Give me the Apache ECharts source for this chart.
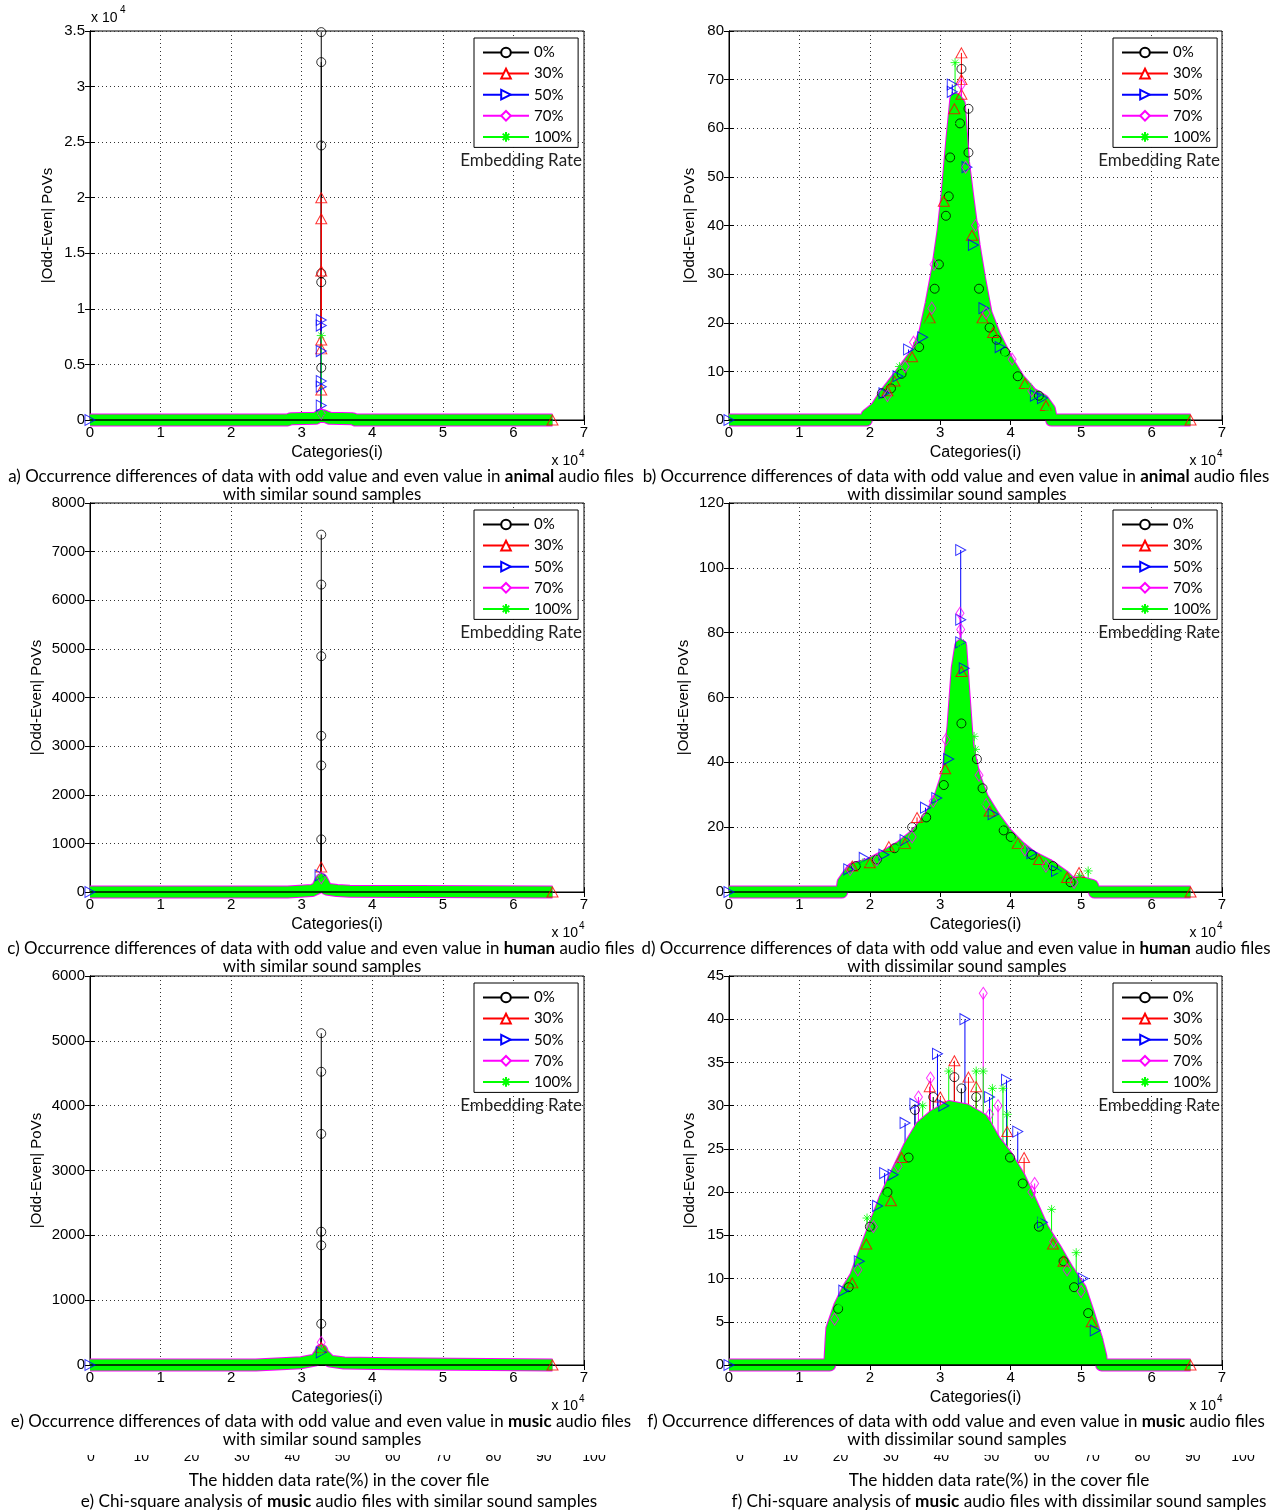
<!DOCTYPE html>
<html><head><meta charset="utf-8">
<script src="https://cdn.jsdelivr.net/npm/echarts@6/dist/echarts.min.js"></script>
<style>html,body{margin:0;padding:0;background:#fff}#c{width:1280px;height:1511px}</style>
</head><body><div id="c"></div>
<script>
// ================= DATA =================
const xTicks = [0, 7, 1];              // x axis: min, max, interval (x 10^4)
const rateLabels = ['0%', '30%', '50%', '70%', '100%'];
const hiddenRateTicks = [0, 100, 10];  // footer axis: min, max, interval
const bandEnd = 6.5536;

// a) animal, similar (y in units of 10^4)
const aEnv = [[0,0],[2.8,0],[2.85,0.012],[3.2,0.015],[3.26,0.04],[3.28,0.05],[3.3,0.04],[3.4,0.015],[3.72,0.012],[3.76,0],[6.5536,0]];
const a0   = [[3.277,3.49],[3.277,3.22],[3.277,2.47],[3.277,1.32],[3.277,1.24],[3.277,0.47]];
const a30  = [[3.277,2.0],[3.277,1.81],[3.277,1.34],[3.277,0.72],[3.277,0.64],[3.277,0.27],[6.5536,0]];
const a50  = [[3.277,0.9],[3.277,0.85],[3.277,0.62],[3.277,0.35],[3.277,0.30],[3.277,0.13],[0,0]];
const a70  = [[3.277,0.06]];
const a100 = [[3.277,0.76],[3.277,0.05]];

// b) animal, dissimilar
const bEnv = [[0,0],[1.95,0],[1.96,1],[2.09,2.5],[2.2,5],[2.44,9.5],[2.67,14],[2.78,18],[2.87,24],[2.96,31],[3.04,39],[3.10,47],[3.16,57],[3.22,66],[3.27,65],[3.33,53],[3.39,46],[3.48,36],[3.56,29],[3.65,22],[3.77,17.5],[3.94,12.5],[4.11,8.5],[4.29,5.5],[4.46,4],[4.55,2.2],[4.58,0],[6.5536,0]];
const b0   = [[3.30,72.2],[3.40,64],[3.40,55],[3.14,54],[3.12,46],[3.08,42],[2.98,32],[2.92,27],[3.55,27],[3.80,16.5],[3.92,14],[2.17,5.5],[3.28,61],[2.45,9.5],[2.70,15],[3.70,19],[4.10,9],[4.40,5],[2.30,6.5]];
const b30  = [[3.30,75.5],[3.30,70],[3.30,67],[3.20,64],[3.45,38],[3.60,21],[2.35,8],[4.50,3],[3.05,45],[2.60,13],[2.85,21],[3.75,18],[4.20,7.5],[2.25,6],[6.5536,0]];
const b50  = [[3.17,69],[3.17,67.5],[2.55,14.5],[2.20,5.5],[3.47,36],[3.62,23],[3.38,52],[4.35,5],[2.40,9],[3.85,15],[4.45,4.5],[2.75,17],[0,0]];
const b70  = [[3.36,52],[2.91,32],[3.30,69],[4.02,12.5],[2.88,23],[3.50,40],[2.62,16],[2.50,11],[3.65,22],[4.30,6],[2.25,5]];
const b100 = [[3.21,73.5],[3.17,61],[2.42,11],[2.80,20],[2.11,3],[3.32,59],[3.52,30],[4.55,2],[3.90,13],[4.25,7],[2.95,30]];

// c) human, similar
const cEnv = [[0,0],[2.8,0],[2.82,15],[3.15,30],[3.22,80],[3.26,200],[3.28,260],[3.31,180],[3.35,60],[3.5,30],[3.68,15],[3.7,0],[6.5536,0]];
const c0   = [[3.277,7349],[3.277,6322],[3.277,4849],[3.277,3212],[3.277,2603],[3.277,1082]];
const c30  = [[3.277,514],[6.5536,0]];
const c50  = [[3.26,342],[0,0]];
const c70  = [[3.277,290]];
const c100 = [[3.277,308]];

// d) human, dissimilar
const dEnv = [[0,0],[1.60,0],[1.62,3],[1.75,7],[1.98,8.5],[2.21,11],[2.44,14],[2.67,18],[2.85,23],[2.99,29],[3.11,37],[3.18,51],[3.24,69],[3.29,76],[3.34,60],[3.39,45],[3.48,36],[3.60,29],[3.77,23],[3.94,18],[4.12,14],[4.29,11],[4.52,8.5],[4.75,5],[4.87,2.5],[4.99,3],[5.16,2],[5.19,0],[6.5536,0]];
const d0   = [[3.52,41],[3.60,32],[4.00,17],[3.05,33],[2.60,20],[3.30,52],[2.35,13.5],[4.60,8],[1.80,8],[2.10,10],[2.80,23],[3.90,19],[4.30,11.5],[4.85,3]];
const d30  = [[3.07,38],[2.67,23],[2.27,14],[1.75,8],[4.97,6],[3.30,68],[4.10,15],[2.00,9],[2.50,15],[3.70,25],[4.40,10],[4.80,4.5],[6.5536,0]];
const d50  = [[3.29,105.5],[3.29,84],[3.29,77],[3.12,41],[2.79,26],[1.92,10.5],[4.30,12],[3.34,69],[2.50,16],[1.70,7],[2.20,11.5],[2.95,29],[3.75,24],[4.65,6.5],[0,0]];
const d70  = [[3.28,86],[3.29,81],[3.08,47],[3.55,36],[2.90,28],[1.72,7],[4.50,8],[2.10,10],[2.60,17],[3.65,27],[4.20,13],[4.90,3]];
const d100 = [[3.29,77],[3.29,75],[3.60,28],[5.10,6.5],[4.98,5],[3.50,44],[3.48,48],[1.65,4],[3.85,21],[1.90,9],[2.40,14],[4.05,16],[4.70,6]];

// e) music, similar
const eEnv = [[0,0],[2.35,0],[2.37,20],[3.0,35],[3.2,80],[3.26,180],[3.28,230],[3.30,170],[3.4,60],[3.6,30],[4.28,20],[4.3,0],[6.5536,0]];
const e0   = [[3.277,5118],[3.277,4523],[3.277,3564],[3.277,2056],[3.277,1846],[3.277,636]];
const e30  = [[3.277,272],[6.5536,0]];
const e50  = [[3.277,195],[0,0]];
const e70  = [[3.277,349]];
const e100 = [[3.277,220]];

// f) music, dissimilar
const fEnv = [[0,0],[1.43,0],[1.45,3],[1.46,4.2],[1.57,6.8],[1.69,8.8],[1.80,10.3],[1.92,13],[2.06,16],[2.21,19.2],[2.38,22.2],[2.56,25.3],[2.73,27.6],[2.90,28.8],[3.13,29.9],[3.37,29.5],[3.60,28.4],[3.77,26],[3.94,24.2],[4.12,21.8],[4.29,18.8],[4.46,15.7],[4.64,13.4],[4.81,11],[4.99,8.8],[5.10,6.1],[5.22,3],[5.28,1],[5.29,0],[6.5536,0]];
const f0   = [[3.20,33.3],[3.51,31],[2.90,31],[2.64,29.5],[3.99,24],[4.17,21],[2.00,16],[4.75,12],[2.55,24],[3.30,32],[4.40,16],[1.70,9],[2.25,20],[4.90,9],[5.10,6],[1.55,6.5]];
const f30  = [[3.20,35.2],[2.85,32.2],[3.40,33.3],[3.51,32.2],[4.19,24],[4.75,12],[1.95,14],[2.30,19],[3.95,27],[1.75,9.5],[2.45,24],[4.60,14],[5.15,5],[3.00,31],[6.5536,0]];
const f50  = [[3.35,40],[2.96,36],[3.94,33],[2.64,30.2],[2.50,28],[4.10,27],[2.21,22.2],[2.33,22],[2.11,18.4],[5.03,10],[1.63,8.6],[3.05,30],[1.85,12],[4.45,16.5],[5.20,4],[3.70,31],[0,0]];
const f70  = [[3.61,43],[2.86,33.2],[2.69,31],[3.82,30],[4.34,21],[1.83,11],[4.61,14.3],[1.50,5.3],[3.70,29],[4.30,20],[2.05,16],[2.40,23],[4.80,11],[5.00,8.5]];
const f100 = [[3.12,34],[3.51,34],[3.61,34],[3.74,32],[3.89,32],[4.58,18],[1.96,17],[4.93,13],[2.75,30],[3.95,29],[1.60,7],[2.20,19.5],[4.40,17],[5.25,3]];

// y axis ranges [max, interval]
const yRanges = [[3.5,0.5],[80,10],[8000,1000],[120,20],[6000,1000],[45,5]];
const kinds = ['animal','animal','human','human','music','music'];
const sims = ['similar','dissimilar','similar','dissimilar','similar','dissimilar'];
const letters = ['a','b','c','d','e','f'];

// ================= LAYOUT / STYLE =================
const envs = [aEnv,bEnv,cEnv,dEnv,eEnv,fEnv];
const pts = [[a0,a30,a50,a70,a100],[b0,b30,b50,b70,b100],[c0,c30,c50,c70,c100],[d0,d30,d50,d70,d100],[e0,e30,e50,e70,e100],[f0,f30,f50,f70,f100]];
const layout = [
  {left:90, top:31, w:494, h:389, yGap:35},
  {left:729, top:31, w:493, h:389, yGap:32},
  {left:90, top:503, w:494, h:389, yGap:46},
  {left:729, top:503, w:493, h:389, yGap:38},
  {left:90, top:976, w:494, h:389, yGap:46},
  {left:729, top:976, w:493, h:389, yGap:32}
];
const STAR = 'path://M5,0L5,10M0,5L10,5M1.6,1.6L8.4,8.4M1.6,8.4L8.4,1.6';
const sty = [
  {color:'#000000', symbol:'circle', size:9, rot:0, leg:'emptyCircle'},
  {color:'#ff0000', symbol:'triangle', size:[11,10], rot:0, leg:'emptyTriangle'},
  {color:'#0000ff', symbol:'triangle', size:[11,10], rot:-90, leg:'emptyTriangle'},
  {color:'#ff00ff', symbol:'diamond', size:[8,12], rot:0, leg:'emptyDiamond'},
  {color:'#00ff00', symbol:STAR, size:9, rot:0, leg:STAR}
];
const TICKF = 'Liberation Sans';
const CAPF = 'Lato';

const cv = document.createElement('canvas').getContext('2d');
function fitSize(text, family, target) {
  cv.font = '20px "' + family + '"';
  return 20 * target / cv.measureText(text).width;
}
const CAPS = fitSize('a) Occurrence differences of data with odd value and even value in animal audio files', CAPF, 625);
const FOOT1 = fitSize('The hidden data rate(%) in the cover file', CAPF, 301);
const FOOT2 = fitSize('e) Chi-square analysis of music audio files with similar sound samples', CAPF, 516);

const grid = [], xAxis = [], yAxis = [], series = [], legend = [], graphic = [];
const axLine = {show:true, lineStyle:{color:'#000', width:1}};
const dotted = {show:true, lineStyle:{color:'#333', width:1, type:[1,3]}};
const tickIn = {show:true, inside:true, length:5, lineStyle:{color:'#000'}};
const TA = (o) => Object.assign({verticalAlign:'middle', textVerticalAlign:'middle'}, o);
const plain = (v) => String(v);

// legend dummy series (first, so legend icons come from them)
sty.forEach((s, k) => {
  series.push({type:'line', name:rateLabels[k], xAxisIndex:0, yAxisIndex:0, data:[],
    symbol:s.leg, symbolRotate:s.rot, symbolSize:9, color:s.color,
    lineStyle:{color:s.color, width:1}, itemStyle:{color:s.color, borderColor:s.color, borderWidth:1}});
});

layout.forEach((L, i) => {
  grid.push({left:L.left, top:L.top, width:L.w, height:L.h, show:true, borderColor:'#000', borderWidth:1, backgroundColor:'rgba(0,0,0,0)'});
  xAxis.push({type:'value', gridIndex:i, min:xTicks[0], max:xTicks[1], interval:xTicks[2], position:'bottom',
    axisLine:axLine, axisTick:tickIn,
    axisLabel:{fontFamily:TICKF, fontSize:15, color:'#000', margin:5, formatter:plain},
    splitLine:dotted, name:'Categories(i)', nameLocation:'middle', nameGap:25,
    nameTextStyle:{fontFamily:TICKF, fontSize:16, color:'#000'}});
  xAxis.push({type:'value', gridIndex:i, min:xTicks[0], max:xTicks[1], interval:xTicks[2], position:'top',
    axisLine:axLine, axisTick:tickIn, axisLabel:{show:false}, splitLine:{show:false}});
  yAxis.push({type:'value', gridIndex:i, min:0, max:yRanges[i][0], interval:yRanges[i][1], position:'left',
    axisLine:axLine, axisTick:tickIn,
    axisLabel:{fontFamily:TICKF, fontSize:15, color:'#000', margin:5, formatter:plain},
    splitLine:dotted, name:'|Odd-Even| PoVs', nameLocation:'middle', nameGap:L.yGap, nameRotate:90,
    nameTextStyle:{fontFamily:TICKF, fontSize:15, color:'#000'}});
  yAxis.push({type:'value', gridIndex:i, min:0, max:yRanges[i][0], interval:yRanges[i][1], position:'right',
    axisLine:axLine, axisTick:tickIn, axisLabel:{show:false}, splitLine:{show:false}});
  const xi = 2*i, yi = 2*i;
  // stems
  pts[i].forEach((d, k) => {
    const col = sty[k].color;
    series.push({type:'custom', name:letters[i]+' stem '+k, xAxisIndex:xi, yAxisIndex:yi, data:d, z:2, clip:false, silent:true,
      renderItem:(params, api) => {
        const p1 = api.coord([api.value(0), 0]);
        const p2 = api.coord([api.value(0), api.value(1)]);
        return {type:'line', shape:{x1:p1[0], y1:p1[1], x2:p2[0], y2:p2[1]}, style:{stroke:col, lineWidth:1}};
      }});
  });
  // dense band / mass
  series.push({type:'line', name:letters[i]+' edge', xAxisIndex:xi, yAxisIndex:yi, data:envs[i], showSymbol:false, clip:false,
    lineStyle:{color:'#ff00ff', width:13, join:'round'}, z:3, silent:true});
  series.push({type:'line', name:letters[i]+' mass', xAxisIndex:xi, yAxisIndex:yi, data:envs[i], showSymbol:false, clip:false,
    lineStyle:{color:'#00ff00', width:11, join:'round'}, areaStyle:{color:'#00ff00', opacity:1}, z:4, silent:true});
  series.push({type:'line', name:letters[i]+' base', xAxisIndex:xi, yAxisIndex:yi, data:[[0,0],[bandEnd,0]], showSymbol:false, clip:false,
    lineStyle:{color:'#000', width:1.5}, z:5, silent:true});
  // markers
  pts[i].forEach((d, k) => {
    const s = sty[k];
    series.push({type:'scatter', name:letters[i]+' pts '+k, xAxisIndex:xi, yAxisIndex:yi, data:d, clip:false, z:6,
      symbol:s.symbol, symbolSize:s.size, symbolRotate:s.rot,
      itemStyle:{color:'rgba(0,0,0,0)', borderColor:s.color, borderWidth:1}, silent:true});
  });
  // legend
  legend.push({show:true, orient:'vertical', left:L.left+384, top:L.top+7, data:rateLabels, selectedMode:false,
    padding:[7,6,3,8], itemWidth:46, itemHeight:12, itemGap:6.1, borderColor:'#000', borderWidth:1,
    backgroundColor:'#fff', textStyle:{fontFamily:CAPF, fontSize:15, lineHeight:14, color:'#000'}});
  graphic.push({type:'text', x:L.left+L.w-2, y:L.top+130, z:50,
    style:TA({text:'Embedding Rate', fontFamily:CAPF, fontSize:17, fill:'#222', align:'right', textAlign:'right'})});
  // x 10^4 under x axis
  graphic.push({type:'text', x:L.left+L.w-6, y:L.top+L.h+41, z:50,
    style:TA({text:'x 10', fontFamily:TICKF, fontSize:14, fill:'#000', align:'right', textAlign:'right'})});
  graphic.push({type:'text', x:L.left+L.w-5, y:L.top+L.h+34, z:50,
    style:TA({text:'4', fontFamily:TICKF, fontSize:10, fill:'#000', align:'left', textAlign:'left'})});
  // captions
  const cx = (i % 2 === 0) ? 321 : 956;
  const line1a = letters[i] + ') Occurrence differences of data with odd value and even value in ';
  graphic.push({type:'text', x:cx, y:L.top+446, z:50, style:TA({
    text:'{n|' + line1a + '}{b|' + kinds[i] + '}{n| audio files}',
    align:'center', textAlign:'center', fontFamily:CAPF, fontSize:CAPS, fill:'#000',
    rich:{n:{fontFamily:CAPF, fontSize:CAPS, fill:'#000', color:'#000'}, b:{fontFamily:CAPF, fontSize:CAPS, fontWeight:'bold', fill:'#000', color:'#000'}}})});
  graphic.push({type:'text', x:cx+1, y:L.top+464, z:50, style:TA({
    text:'with ' + sims[i] + ' sound samples', fontFamily:CAPF, fontSize:CAPS, fill:'#000',
    align:'center', textAlign:'center'})});
});

// x 10^4 above the y axis of panel a
graphic.push({type:'text', x:91, y:18, z:50, style:TA({text:'x 10', fontFamily:TICKF, fontSize:14, fill:'#000', align:'left', textAlign:'left'})});
graphic.push({type:'text', x:120, y:10, z:50, style:TA({text:'4', fontFamily:TICKF, fontSize:10, fill:'#000', align:'left', textAlign:'left'})});

// footer: partially visible axis of the next figure row
[{left:91, cx:339, t2:'e'}, {left:740, cx:999, t2:'f'}].forEach((F, j) => {
  const gi = 6 + j;
  grid.push({left:F.left, top:1445, width:503, height:1, show:false});
  xAxis.push({type:'value', gridIndex:gi, min:hiddenRateTicks[0], max:hiddenRateTicks[1], interval:hiddenRateTicks[2],
    axisLine:{show:false}, axisTick:{show:false}, splitLine:{show:false},
    axisLabel:{fontFamily:TICKF, fontSize:14, color:'#000', margin:4}});
  yAxis.push({type:'value', gridIndex:gi, show:false, min:0, max:1});
  graphic.push({type:'text', x:F.cx, y:1480, z:50, style:TA({text:'The hidden data rate(%) in the cover file', fontFamily:CAPF, fontSize:FOOT1, fill:'#000', align:'center', textAlign:'center'})});
  const w = j === 0 ? 'similar' : 'dissimilar';
  graphic.push({type:'text', x:F.cx, y:1501, z:50, style:TA({
    text:'{n|' + F.t2 + ') Chi-square analysis of }{b|music}{n| audio files with ' + w + ' sound samples}',
    align:'center', textAlign:'center', fontFamily:CAPF, fontSize:FOOT2, fill:'#000',
    rich:{n:{fontFamily:CAPF, fontSize:FOOT2, fill:'#000', color:'#000'}, b:{fontFamily:CAPF, fontSize:FOOT2, fontWeight:'bold', fill:'#000', color:'#000'}}})});
});
// cover the upper part of the cut-off footer tick labels
graphic.push({type:'rect', z:100, shape:{x:0, y:1449, width:1280, height:6}, style:{fill:'#fff'}});

const chart = echarts.init(document.getElementById('c'), null, {renderer:'canvas'});
chart.setOption({
  animation:false,
  backgroundColor:'#fff',
  grid, xAxis, yAxis, legend, series, graphic
});
</script>
</body></html>
